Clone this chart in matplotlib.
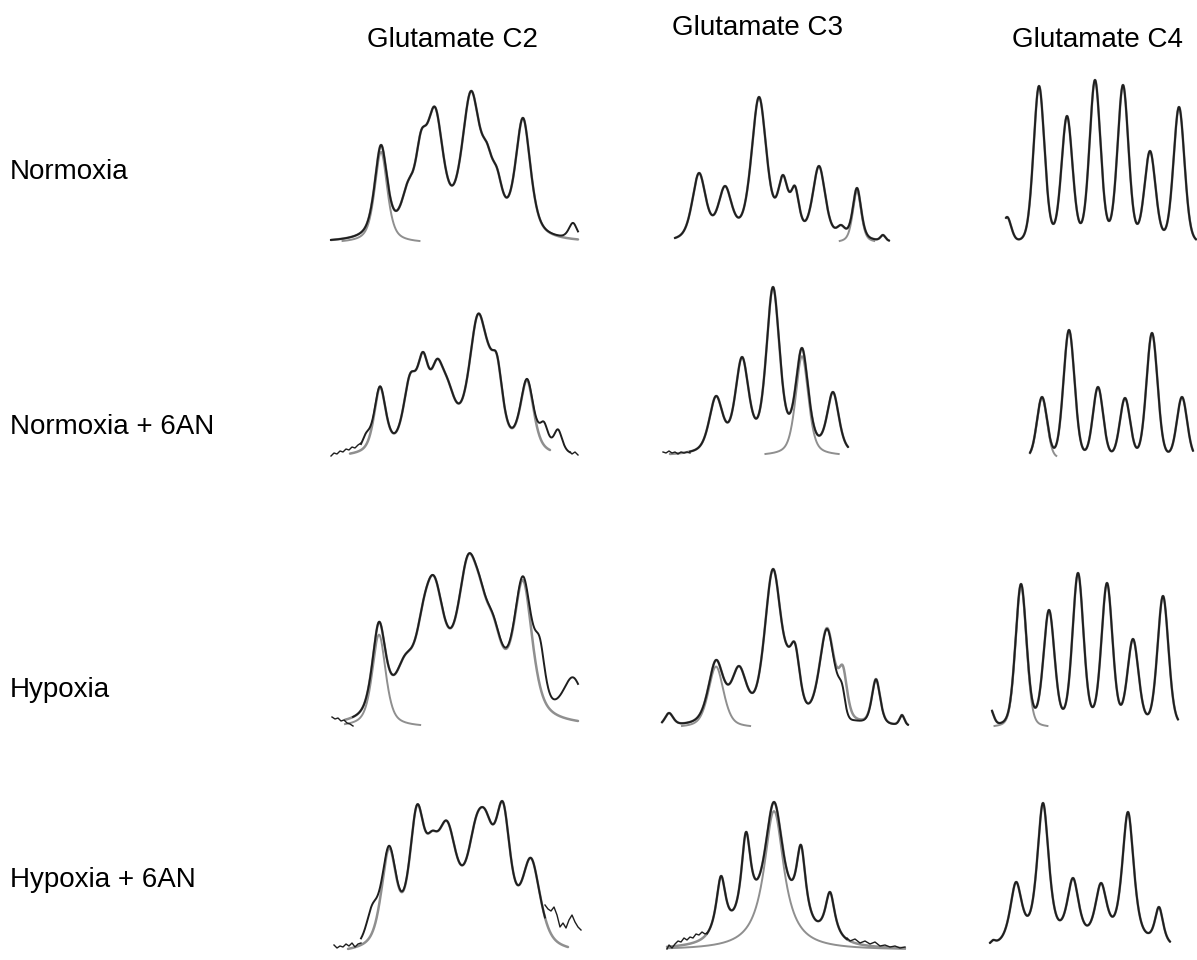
import numpy as np
import matplotlib
matplotlib.use("Agg")
import matplotlib.pyplot as plt

plt.rcParams['font.family'] = ['Liberation Sans', 'DejaVu Sans']

# ---------------- data ----------------
conditions = ["Normoxia", "Normoxia + 6AN", "Hypoxia", "Hypoxia + 6AN"]
carbons = ["Glutamate C2", "Glutamate C3", "Glutamate C4"]

# Each spectrum: peak positions (chemical-shift axis, arbitrary units), apex heights,
# half widths; black-only extra features; gray fitted components.
nor_c2_pos = [381, 408, 421, 435, 471, 487, 497, 523]
nor_c2_hgt = [98, 62, 112, 136, 152, 100, 75, 125]
nor_c2_wid = [7.5, 8, 7, 10, 11, 7, 7, 9]
nor_c2_xtr = ([573], [16], [5])

nor_c3_pos = [699, 725, 759, 783, 795, 819, 841, 857, 883]
nor_c3_hgt = [70, 57, 146, 68, 57, 77, 18, 55, 8]
nor_c3_wid = [8, 8, 9, 6, 5, 7.5, 5, 5, 3]

nor_c4_pos = [1007, 1039, 1067, 1095, 1123, 1150, 1179]
nor_c4_hgt = [28, 159, 129, 165, 160, 94, 138]
nor_c4_wid = [5, 6.5, 6.5, 6.5, 6.5, 6.5, 6.5]

nan_c2_pos = [380, 410, 423, 437, 448, 478, 488, 497, 527]
nan_c2_hgt = [71, 84, 106, 99, 78, 144, 115, 103, 78]
nan_c2_wid = [7, 8, 7, 8, 10, 11, 7, 7, 8]
nan_c2_xtr = ([366, 544, 558], [12, 22, 22], [5, 5, 5])
nan_c2_noise_l = ([331, 334, 337, 340, 343, 346, 349, 352, 355, 358, 361],
                  [2, 5, 4, 7, 6, 9, 8, 11, 10, 13, 15])
nan_c2_noise_r = ([570, 572, 575, 578], [6, 4, 6, 3])

nan_c3_pos = [716, 742, 773, 802, 833]
nan_c3_hgt = [60, 99, 169, 108, 64]
nan_c3_wid = [8, 8, 8, 7.5, 7]
nan_c3_noise_l = ([663, 666, 669, 672, 675, 678, 681, 684, 687, 690],
                  [4, 3, 5, 3, 4, 2, 4, 3, 4, 3])

nan_c4_pos = [1042, 1069, 1098, 1125, 1152, 1182]
nan_c4_hgt = [61, 128, 71, 60, 125, 61]
nan_c4_wid = [6, 6.5, 6, 6, 6.5, 6]

hyp_c2_pos = [379, 405, 423, 434, 468, 480, 493, 523]
hyp_c2_hgt = [105, 72, 125, 151, 172, 149, 112, 147]
hyp_c2_wid = [8, 12, 9, 13, 13, 9, 12, 11]
hyp_c2_xtr = ([540, 573], [45, 42], [6, 12])
hyp_c2_noise_l = ([332, 335, 338, 341, 344, 347, 350, 353], [10, 8, 9, 6, 7, 4, 3, 1])

hyp_c3_pos = [669, 716, 739, 773, 787, 795, 827, 843, 876, 902]
hyp_c3_hgt = [15, 68, 62, 159, 83, 85, 100, 62, 49, 13]
hyp_c3_wid = [5, 9, 9, 10, 6, 6, 9, 5, 5, 3]
hyp_c3_xtr = ([845], [-25], [5])

hyp_c4_pos = [990, 1021, 1049, 1078, 1107, 1133, 1163]
hyp_c4_hgt = [20, 144, 118, 155, 145, 89, 132]
hyp_c4_wid = [4, 6.5, 6.5, 6.5, 6.5, 6.5, 6.5]

han_c2_pos = [389, 417, 432, 447, 476, 486, 503, 531]
han_c2_hgt = [107, 150, 124, 134, 138, 144, 153, 97]
han_c2_wid = [9, 9, 8, 12, 12, 10, 9, 11]
han_c2_xtr = ([372], [28], [7])
han_c2_noise_l = ([334, 337, 340, 343, 346, 349, 352, 355, 358, 361],
                  [10, 7, 9, 8, 11, 9, 12, 8, 11, 12])
han_c2_noise_r = ([545, 548, 551, 554, 557, 560, 563, 566, 569, 572, 575, 578, 581],
                  [50, 46, 44, 48, 40, 28, 32, 27, 35, 40, 33, 28, 25])

han_c3_pos = [721, 746, 774, 801, 830]
han_c3_hgt = [74, 118, 148, 105, 58]
han_c3_wid = [6, 6, 12, 6, 6]
han_c3_noise_l = ([667, 669, 672, 675, 678, 681, 684, 687, 690, 693, 696, 699, 702, 705, 707],
                  [1, 5, 2, 6, 9, 8, 12, 10, 13, 12, 16, 15, 18, 16, 17])
han_c3_noise_r = ([847, 850, 855, 860, 865, 870, 875, 880, 885, 890, 895, 900, 905],
                  [12, 9, 11, 7, 9, 6, 8, 4, 5, 3, 4, 2, 3])

han_c4_pos = [993, 1016, 1043, 1073, 1101, 1128, 1159]
han_c4_hgt = [10, 68, 147, 72, 67, 138, 43]
han_c4_wid = [3, 7, 7, 7, 7, 7, 5]

spectra = {
    (0, 0): dict(pos=nor_c2_pos, hgt=nor_c2_hgt, wid=nor_c2_wid, eta=0.6, rng=(331, 578),
                 brng=(331, 578), xtr=nor_c2_xtr, comp=[0]),
    (0, 1): dict(pos=nor_c3_pos, hgt=nor_c3_hgt, wid=nor_c3_wid, eta=0.5, rng=(675, 889),
                 brng=(675, 889), comp=[7]),
    (0, 2): dict(pos=nor_c4_pos, hgt=nor_c4_hgt, wid=nor_c4_wid, eta=0.22, rng=(1006, 1196),
                 brng=(1006, 1196), comp=[]),
    (1, 0): dict(pos=nan_c2_pos, hgt=nan_c2_hgt, wid=nan_c2_wid, eta=0.6, rng=(350, 550),
                 brng=(361, 570), xtr=nan_c2_xtr, noise=[nan_c2_noise_l, nan_c2_noise_r], comp=[]),
    (1, 1): dict(pos=nan_c3_pos, hgt=nan_c3_hgt, wid=nan_c3_wid, eta=0.5, rng=(670, 848),
                 brng=(690, 848), noise=[nan_c3_noise_l], comp=[3]),
    (1, 2): dict(pos=nan_c4_pos, hgt=nan_c4_hgt, wid=nan_c4_wid, eta=0.12, rng=(1030, 1193),
                 brng=(1030, 1193), comp=[0]),
    (2, 0): dict(pos=hyp_c2_pos, hgt=hyp_c2_hgt, wid=hyp_c2_wid, eta=0.6, rng=(345, 578),
                 brng=(353, 578), xtr=hyp_c2_xtr, noise=[hyp_c2_noise_l], comp=[0]),
    (2, 1): dict(pos=hyp_c3_pos, hgt=hyp_c3_hgt, wid=hyp_c3_wid, eta=0.5, rng=(662, 908),
                 brng=(662, 908), xtr=hyp_c3_xtr, comp=[1]),
    (2, 2): dict(pos=hyp_c4_pos, hgt=hyp_c4_hgt, wid=hyp_c4_wid, eta=0.25, rng=(992, 1178),
                 brng=(992, 1178), comp=[1]),
    (3, 0): dict(pos=han_c2_pos, hgt=han_c2_hgt, wid=han_c2_wid, eta=0.6, rng=(348, 568),
                 brng=(361, 545), xtr=han_c2_xtr, noise=[han_c2_noise_l, han_c2_noise_r], comp=[]),
    (3, 1): dict(pos=han_c3_pos, hgt=han_c3_hgt, wid=han_c3_wid, eta=1.0, rng=(667, 905),
                 brng=(707, 847), noise=[han_c3_noise_l, han_c3_noise_r], comp=[2], cthr=0),
    (3, 2): dict(pos=han_c4_pos, hgt=han_c4_hgt, wid=han_c4_wid, eta=0.7, rng=(990, 1170),
                 brng=(990, 1170), comp=[]),
}

# ---------------- layout (figure pixels) ----------------
W, H = 1197, 960
col_lr = [(325, 585), (655, 910), (985, 1197)]
row_base = [(243, 243, 245), (458, 456, 458), (727, 728, 728), (955, 950, 950)]
PANEL_H = 200
row_label_y = [172, 427, 690, 880]
title_xy = [(452, 40), (757, 28), (1097, 40)]

FIT_COLOR = "#8f8f8f"
EXP_COLOR = "#1e1e1e"


def profile(x, p, w, eta):
    d = ((x - p) / w) ** 2
    return eta / (1.0 + d) + (1.0 - eta) * np.exp(-np.log(2.0) * d)


def amplitudes(pos, hgt, wid, eta):
    pos = np.asarray(pos, float)
    hgt = np.asarray(hgt, float)
    wid = np.asarray(wid, float)
    M = profile(pos[:, None], pos[None, :], wid[None, :], eta)
    a = hgt.copy()
    for _ in range(400):
        a *= hgt / (M @ a)
    return a


fig = plt.figure(figsize=(W / 100, H / 100), dpi=100)
fig.patch.set_facecolor("white")

for (r, c), s in spectra.items():
    L, R = col_lr[c]
    base = row_base[r][c]
    ax = fig.add_axes([L / W, (H - base) / H, (R - L) / W, PANEL_H / H])
    ax.set_xlim(L, R)
    ax.set_ylim(0, PANEL_H)
    ax.axis("off")

    pos = np.asarray(s["pos"], float)
    wid = np.asarray(s["wid"], float)
    a = amplitudes(pos, s["hgt"], wid, s["eta"])

    x = np.linspace(s["rng"][0], s["rng"][1], 900)
    fit = profile(x[:, None], pos[None, :], wid[None, :], s["eta"]) @ a
    ax.plot(x, fit, color=FIT_COLOR, lw=1.8, solid_capstyle="round", clip_on=False)

    thr = s.get("cthr", 2.0)
    for i in s.get("comp", []):
        comp = a[i] * profile(x, pos[i], wid[i], s["eta"])
        comp = np.where(comp >= thr, comp, np.nan)
        ax.plot(x, comp, color=FIT_COLOR, lw=1.4, clip_on=False)

    xb = np.linspace(s["brng"][0], s["brng"][1], 900)
    exp = profile(xb[:, None], pos[None, :], wid[None, :], s["eta"]) @ a
    if "xtr" in s:
        xp, xh, xw = s["xtr"]
        for p_, h_, w_ in zip(xp, xh, xw):
            exp = exp + h_ * profile(xb, p_, w_, 0.5)
    exp = np.clip(exp, 0, None)
    ax.plot(xb, exp, color=EXP_COLOR, lw=1.4, clip_on=False)

    for nx, nh in s.get("noise", []):
        ax.plot(nx, nh, color=EXP_COLOR, lw=1.0, clip_on=False)

for j, t in enumerate(carbons):
    x0, y0 = title_xy[j]
    fig.text(x0 / W, 1 - y0 / H, t, ha="center", va="center", fontsize=20, color="black")

for i, t in enumerate(conditions):
    fig.text(10 / W, 1 - row_label_y[i] / H, t, ha="left", va="center", fontsize=20, color="black")

fig.savefig("out.png", dpi=100, facecolor="white")
